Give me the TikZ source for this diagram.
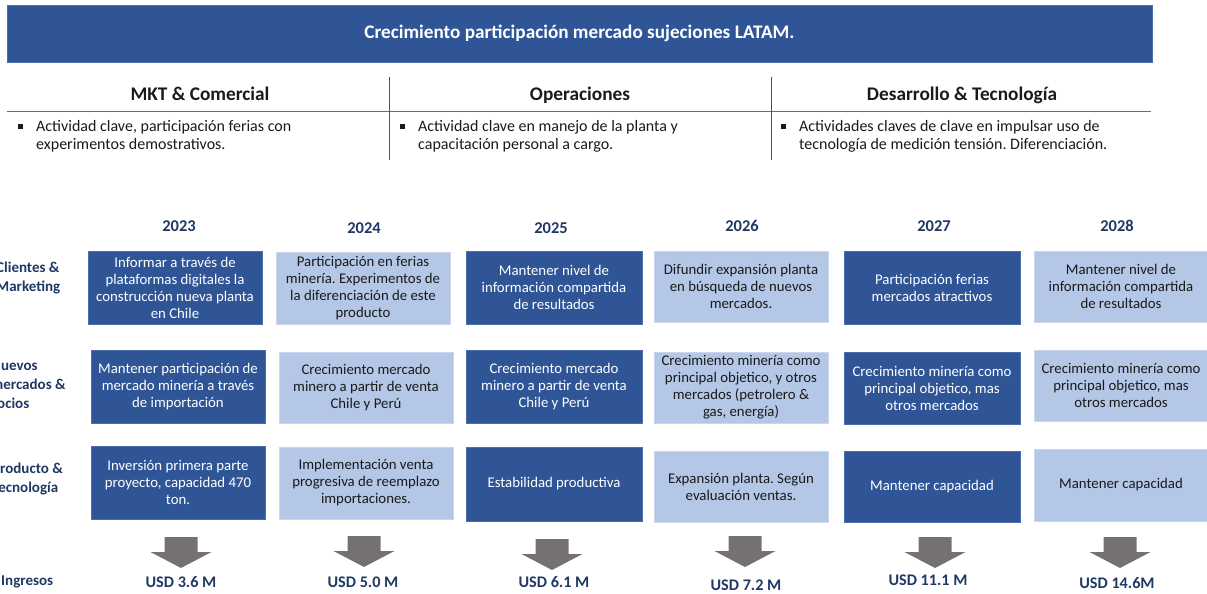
\documentclass[tikz,border=0pt]{standalone}
\usepackage{fontspec}
\setmainfont{Carlito}
\frenchspacing
\definecolor{dblue}{HTML}{2F5597}
\definecolor{dborder}{HTML}{4A6EAE}
\definecolor{lblue}{HTML}{B4C7E7}
\definecolor{lborder}{HTML}{C9D6EE}
\definecolor{navy}{HTML}{1F3864}
\definecolor{arrgray}{HTML}{767171}
\definecolor{linblue}{HTML}{4A70B8}
\definecolor{txt}{HTML}{1A1A1A}
\begin{document}
\frenchspacing
\begin{tikzpicture}[x=1pt,y=-1pt,
  boxtext/.style={align=center,inner sep=0pt,font=\fontsize{14.8}{17}\selectfont},
  dbox/.style={boxtext,fill=dblue,draw=dborder,line width=0.8pt,text=white},
  lbox/.style={boxtext,fill=lblue,draw=lborder,line width=0.8pt,text=txt},
  yearlbl/.style={font=\bfseries\fontsize{16.5}{19}\selectfont,text=navy,inner sep=0pt},
  rowlbl/.style={font=\bfseries\fontsize{15}{19}\selectfont,text=navy,align=left,anchor=west,inner sep=0pt},
  usdlbl/.style={font=\bfseries\fontsize{16.2}{19}\selectfont,text=navy,inner sep=0pt},
  headlbl/.style={font=\bfseries\fontsize{19.3}{22}\selectfont,text=txt,inner sep=0pt,anchor=base},
  bullettext/.style={font=\fontsize{16}{18}\selectfont,text=txt,align=left,anchor=west,inner sep=0pt},
  bulletsq/.style={fill=txt,minimum size=5pt,inner sep=0pt},
  downarrow/.pic={\fill[arrgray] (-16.5,0) -- (16.5,0) -- (16.5,15) -- (30.5,15) -- (0,31) -- (-30.5,15) -- (-16.5,15) -- cycle;}
]
\useasboundingbox (0,0) rectangle (1207,594);
\clip (0,0) rectangle (1207,594);

% title bar
\node[fill=dblue,draw=dborder,minimum width=1145pt,minimum height=57pt,inner sep=0pt,
      text=white,font=\bfseries\fontsize{19.2}{22}\selectfont] (title) at (579.5,33.5)
      {Crecimiento participación mercado sujeciones LATAM.};

% headers
\node[headlbl] (h1) at (200,100) {MKT \& Comercial};
\node[headlbl] (h2) at (580,100) {Operaciones};
\node[headlbl] (h3) at (962,100) {Desarrollo \& Tecnología};
\coordinate (hl) at (7,111.5);
\coordinate (hr) at (1151,111.5);
\draw[linblue,line width=1.8pt] (hl) -- (hr);
\coordinate (v1t) at (389.5,77);
\coordinate (v1b) at (389.5,160);
\coordinate (v2t) at (771,77);
\coordinate (v2b) at (771,160);
\draw[dblue,line width=1pt] (v1t) -- (v1b);
\draw[dblue,line width=1pt] (v2t) -- (v2b);

% bullets
\node[bulletsq] (b1) at (20,126) {};
\node[bullettext] (t1) at (36,136) {Actividad clave, participación ferias con\\experimentos demostrativos.};
\node[bulletsq] (b2) at (402,126) {};
\node[bullettext] (t2) at (418,136) {Actividad clave en manejo de la planta y\\capacitación personal a cargo.};
\node[bulletsq] (b3) at (783,126) {};
\node[bullettext] (t3) at (799,136) {Actividades claves de clave en impulsar uso de\\tecnología de medición tensión. Diferenciación.};

% years
\node[yearlbl] (y1) at (179,226) {2023};
\node[yearlbl] (y2) at (364,228) {2024};
\node[yearlbl] (y3) at (551,228) {2025};
\node[yearlbl] (y4) at (742,226) {2026};
\node[yearlbl] (y5) at (934,226) {2027};
\node[yearlbl] (y6) at (1117,226) {2028};

% row labels
\node[rowlbl] (r1) at (-4,278.5) {Clientes \&\\Marketing};
\node[rowlbl] (r2) at (-9,385) {Nuevos\\mercados \&\\socios};
\node[rowlbl] (r3) at (-8,479.5) {Producto \&\\Tecnología};
\node[rowlbl] (r4) at (1,582) {Ingresos};

% row 1
\node[dbox,minimum width=174pt,minimum height=73pt] (a1) at (175,287.5) {Informar a través de\\plataformas digitales la\\construcción nueva planta\\en Chile};
\node[lbox,minimum width=174pt,minimum height=72pt] (b1x) at (363,288) {Participación en ferias\\minería. Experimentos de\\la diferenciación de este\\producto};
\node[dbox,minimum width=176pt,minimum height=73pt] (c1) at (554,287.5) {Mantener nivel de\\información compartida\\de resultados};
\node[lbox,minimum width=174pt,minimum height=71pt] (d1) at (741,286.5) {Difundir expansión planta\\en búsqueda de nuevos\\mercados.};
\node[dbox,minimum width=176pt,minimum height=73pt] (e1) at (932,287.5) {Participación ferias\\mercados atractivos};
\node[lbox,minimum width=174pt,minimum height=71pt] (f1) at (1121,286.5) {Mantener nivel de\\información compartida\\de resultados};

% row 2
\node[dbox,minimum width=174pt,minimum height=73pt] (a2) at (178,386.5) {Mantener participación de\\mercado minería a través\\de importación};
\node[lbox,minimum width=174pt,minimum height=71pt] (b2x) at (366,387.5) {Crecimiento mercado\\minero a partir de venta\\Chile y Perú};
\node[dbox,minimum width=176pt,minimum height=73pt] (c2) at (554,386.5) {Crecimiento mercado\\minero a partir de venta\\Chile y Perú};
\node[lbox,minimum width=174pt,minimum height=71pt] (d2) at (741,387.5) {Crecimiento minería como\\principal objetico, y otros\\mercados (petrolero \&\\gas, energía)};
\node[dbox,minimum width=176pt,minimum height=72pt] (e2) at (932,388) {Crecimiento minería como\\principal objetico, mas\\otros mercados};
\node[lbox,minimum width=174pt,minimum height=71pt] (f2) at (1121,385.5) {Crecimiento minería como\\principal objetico, mas\\otros mercados};

% row 3
\node[dbox,minimum width=174pt,minimum height=73pt] (a3) at (178,482.5) {Inversión primera parte\\proyecto, capacidad 470\\ton.};
\node[lbox,minimum width=174pt,minimum height=72pt] (b3x) at (366,483) {Implementación venta\\progresiva de reemplazo\\importaciones.};
\node[dbox,minimum width=176pt,minimum height=74pt] (c3) at (554,484) {Estabilidad productiva};
\node[lbox,minimum width=174pt,minimum height=71pt] (d3) at (741,486.5) {Expansión planta. Según\\evaluación ventas.};
\node[dbox,minimum width=176pt,minimum height=71pt] (e3) at (932,486.5) {Mantener capacidad};
\node[lbox,minimum width=174pt,minimum height=72pt] (f3) at (1121,485) {Mantener capacidad};

% arrows
\pic at (181,537) {downarrow};
\pic at (364,536) {downarrow};
\pic at (552,539) {downarrow};
\pic at (745,536) {downarrow};
\pic at (935,537) {downarrow};
\pic at (1120,537) {downarrow};

% revenues
\node[usdlbl] (u1) at (181,582) {USD 3.6 M};
\node[usdlbl] (u2) at (363,582) {USD 5.0 M};
\node[usdlbl] (u3) at (554,582) {USD 6.1 M};
\node[usdlbl] (u4) at (746,585) {USD 7.2 M};
\node[usdlbl] (u5) at (928,580) {USD 11.1 M};
\node[usdlbl] (u6) at (1117,583) {USD 14.6M};
\end{tikzpicture}
\end{document}
